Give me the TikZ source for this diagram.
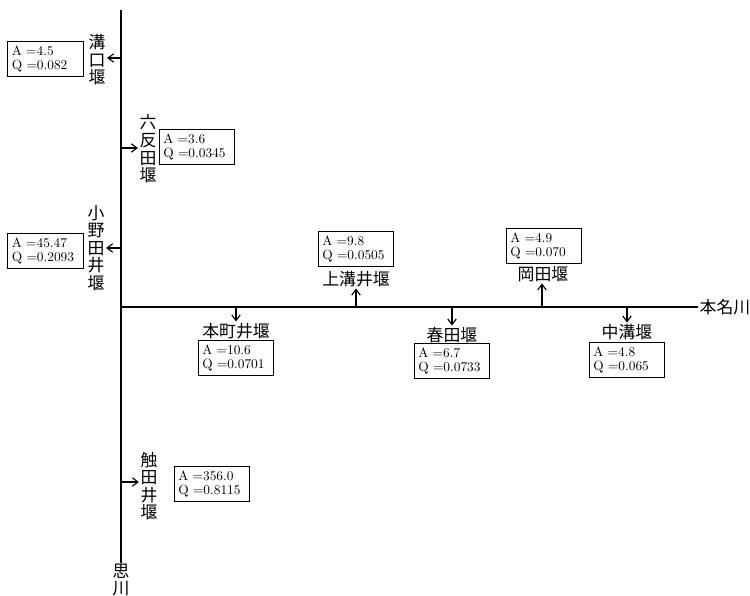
\documentclass[tikz,border=0pt]{standalone}
\usepackage{fontspec}
\newfontfamily\jp{Noto Sans CJK JP}
\usetikzlibrary{arrows.meta}

\tikzset{
  river/.style={line width=1.1pt},
  flow/.style={->, line width=0.8pt},
  weir/.style={font=\jp\fontsize{12}{12.5}\selectfont, inner sep=1pt, align=center},
  data/.style={draw, line width=0.7pt, font=\fontsize{9.5}{10}\selectfont, text width=48pt, align=left, inner sep=3pt}
}

\begin{document}
\begin{tikzpicture}[x=0.025cm, y=-0.025cm, >={Straight Barb[length=4pt, width=6pt]}]
\useasboundingbox (0,0) rectangle (750,596);

% fiumi
\coordinate (top) at (121,10);
\coordinate (conf) at (121,307);
\node[weir, inner sep=0pt] (omoi) at (121,580) {思\\川};
\node[weir, anchor=west, inner sep=1pt] (honmyo) at (698,307) {本名川};
\draw[river] (top) -- (omoi.north);
\draw[river] (conf) -- (honmyo.west);

% punti di presa
\coordinate (j1) at (121,58);
\coordinate (j2) at (121,148);
\coordinate (j3) at (121,248);
\coordinate (j4) at (121,482);
\coordinate (j5) at (236,307);
\coordinate (j6) at (356,307);
\coordinate (j7) at (452,307);
\coordinate (j8) at (542,307);
\coordinate (j9) at (627,307);

% sponda sinistra e destra
\node[weir] (mizo) at (97,60) {溝\\口\\堰};
\node[data] (mizoA) at (45.5,59) {A =4.5\\Q =0.082};
\node[weir] (roku) at (148,149) {六\\反\\田\\堰};
\node[data] (rokuA) at (197,147) {A =3.6\\Q =0.0345};
\node[weir] (ono) at (96,248) {小\\野\\田\\井\\堰};
\node[data] (onoA) at (45.5,251) {A =45.47\\Q =0.2093};
\node[weir] (fure) at (149,486) {触\\田\\井\\堰};
\node[data] (fureA) at (212,484) {A =356.0\\Q =0.8115};

% lungo il fiume orizzontale
\node[weir] (hon) at (236,331) {本町井堰};
\node[data] (honA) at (236,358) {A =10.6\\Q =0.0701};
\node[weir] (kami) at (356,279) {上溝井堰};
\node[data] (kamiA) at (356,249) {A =9.8\\Q =0.0505};
\node[weir] (haru) at (452,335) {春田堰};
\node[data] (haruA) at (452,361) {A =6.7\\Q =0.0733};
\node[weir] (oka) at (543,274) {岡田堰};
\node[data] (okaA) at (544,246) {A =4.9\\Q =0.070};
\node[weir] (naka) at (627,332) {中溝堰};
\node[data] (nakaA) at (627,360) {A =4.8\\Q =0.065};

% frecce
\draw[flow] (j1) -- (j1 -| mizo.east);
\draw[flow] (j2) -- (j2 -| roku.west);
\draw[flow] (j3) -- (j3 -| ono.east);
\draw[flow] (j4) -- (j4 -| fure.west);
\draw[flow] (j5) -- (j5 |- hon.north);
\draw[flow] (j6) -- (j6 |- kami.south);
\draw[flow] (j7) -- (j7 |- haru.north);
\draw[flow] (j8) -- (j8 |- oka.south);
\draw[flow] (j9) -- (j9 |- naka.north);

\end{tikzpicture}
\end{document}
